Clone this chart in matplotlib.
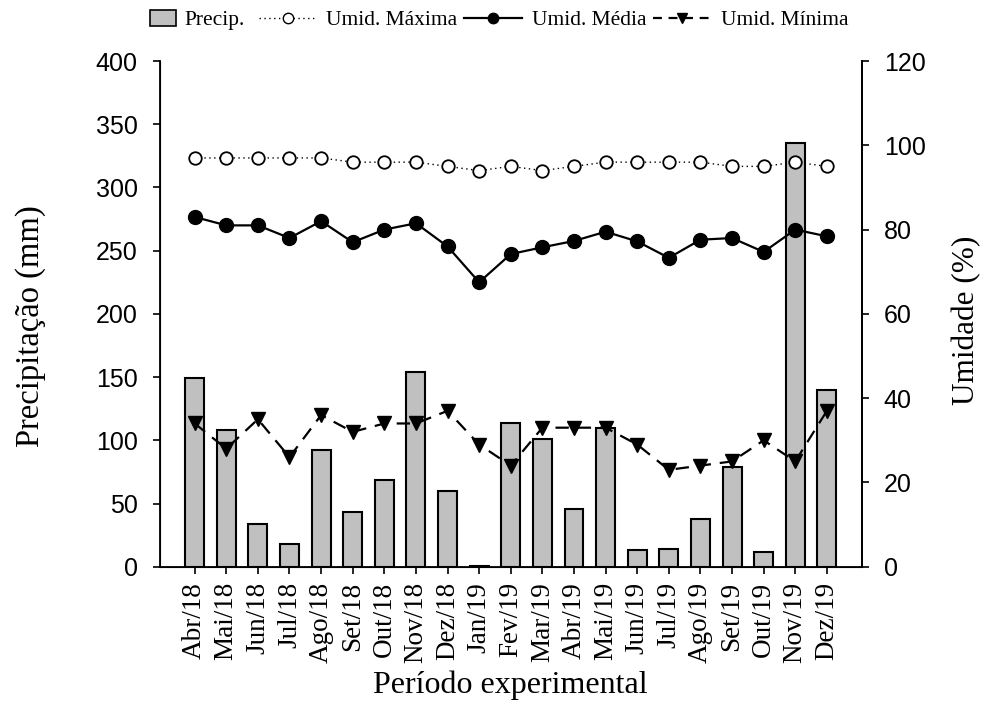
import matplotlib.pyplot as plt
from matplotlib.patches import Patch
from matplotlib.lines import Line2D

# monthly data, Apr/2018 - Dec/2019
meses = ["Abr/18", "Mai/18", "Jun/18", "Jul/18", "Ago/18", "Set/18", "Out/18",
         "Nov/18", "Dez/18", "Jan/19", "Fev/19", "Mar/19", "Abr/19", "Mai/19",
         "Jun/19", "Jul/19", "Ago/19", "Set/19", "Out/19", "Nov/19", "Dez/19"]
precip = [149, 108, 34, 18, 92, 43, 69, 154, 60, 1, 114,
          101, 46, 110, 13, 14, 38, 79, 12, 335, 140]
umid_max = [97, 97, 97, 97, 97, 96, 96, 96, 95, 94, 95,
            94, 95, 96, 96, 96, 96, 95, 95, 96, 95]
umid_med = [83, 81, 81, 78, 82, 77, 80, 81.5, 76, 67.5, 74.2,
            75.8, 77.3, 79.5, 77.2, 73.3, 77.6, 78, 74.7, 80, 78.4]
umid_min = [34, 28, 35, 26, 36, 32, 34, 34, 37, 29, 24,
            33, 33, 33, 29, 23, 24, 25, 30, 25, 37]

serif = "Liberation Serif"
sans = "Liberation Sans"

fig = plt.figure(figsize=(9.87, 7.22), dpi=100)
ax = fig.add_axes([0.162, 0.215, 0.711, 0.7005])
x = list(range(len(meses)))

# precipitation bars (left axis)
ax.bar(x, precip, width=0.6, color="#c0c0c0", edgecolor="black", linewidth=1.5)
ax.set_ylim(0, 400)
ax.set_yticks(range(0, 401, 50))
ax.set_xlim(-1.1, 21.1)
ax.set_xticks(x)
ax.set_xticklabels(meses, rotation=90, fontfamily=serif, fontsize=19.5)
ax.set_ylabel("Precipitação (mm)", fontfamily=serif, fontsize=23.5)
ax.yaxis.set_label_coords(-0.162, 0.476)
ax.set_xlabel("Período experimental", fontfamily=serif, fontsize=23)
ax.xaxis.set_label_coords(0.5, -0.205)
for lab in ax.get_yticklabels():
    lab.set_fontfamily(sans)
    lab.set_fontsize(18)
ax.tick_params(axis="y", direction="out", length=5, width=1.2, pad=11)
ax.tick_params(axis="x", direction="out", length=5, width=1.2, pad=6)
ax.spines["top"].set_visible(False)
for s in ("left", "bottom", "right"):
    ax.spines[s].set_linewidth(1.3)

# humidity lines (right axis)
ax2 = ax.twinx()
ax2.plot(x, umid_max, linestyle=(0, (1, 2.5)), color="black", linewidth=1,
         marker="o", markersize=9, markerfacecolor="white",
         markeredgecolor="black", markeredgewidth=1.3)
ax2.plot(x, umid_med, linestyle="-", color="black", linewidth=1.6,
         marker="o", markersize=10, markerfacecolor="black")
ax2.plot(x, umid_min, linestyle=(0, (6, 4)), color="black", linewidth=1.6,
         marker="v", markersize=10, markerfacecolor="black")
ax2.set_ylim(0, 120)
ax2.set_yticks(range(0, 121, 20))
ax2.set_ylabel("Umidade (%)", fontfamily=serif, fontsize=22.5, rotation=90)
ax2.yaxis.set_label_coords(1.128, 0.487)
for lab in ax2.get_yticklabels():
    lab.set_fontfamily(sans)
    lab.set_fontsize(18)
ax2.tick_params(axis="y", direction="out", length=5, width=1.2, pad=11)
ax2.spines["top"].set_visible(False)
ax2.spines["right"].set_linewidth(1.3)

# legend row above the plot
leg_font = {"family": serif, "size": 15.5}
h_bar = [Patch(facecolor="#c0c0c0", edgecolor="black", linewidth=1.2)]
fig.legend(h_bar, ["Precip."], loc="center left", bbox_to_anchor=(0.152, 0.972),
           frameon=False, prop=leg_font, handlelength=1.2, handleheight=0.75,
           handletextpad=0.4, borderaxespad=0, borderpad=0)
h_lines = [
    Line2D([], [], linestyle=(0, (1, 2.5)), color="black", linewidth=1,
           marker="o", markersize=7.5, markerfacecolor="white"),
    Line2D([], [], linestyle="-", color="black", linewidth=1.6,
           marker="o", markersize=7.5, markerfacecolor="black"),
    Line2D([], [], linestyle=(0, (4, 3)), color="black", linewidth=1.6,
           marker="v", markersize=7.5, markerfacecolor="black"),
]
fig.legend(h_lines, ["Umid. Máxima", "Umid. Média", "Umid. Mínima"],
           loc="center left", bbox_to_anchor=(0.262, 0.972), ncol=3,
           frameon=False, prop=leg_font, handlelength=2.7, handletextpad=0.45,
           columnspacing=0.3, borderaxespad=0, borderpad=0)

fig.savefig("out.png", dpi=100)
